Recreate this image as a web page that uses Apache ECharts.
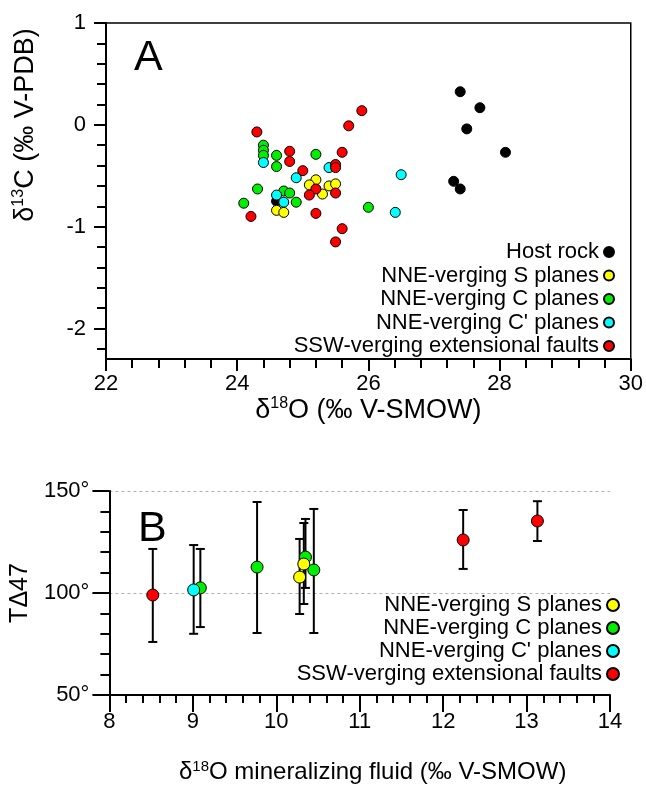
<!DOCTYPE html>
<html>
<head>
<meta charset="utf-8">
<script src="https://cdn.jsdelivr.net/npm/echarts@6/dist/echarts.min.js"></script>
<style>
  html, body { margin: 0; padding: 0; background: #fff; }
  #chart { width: 646px; height: 795px; }
</style>
</head>
<body>
<div id="chart"></div>
<script>
// ---- panel A: d18O vs d13C of calcite ----
const hostX = [24.6, 27.4, 27.7, 27.5, 28.09, 27.3, 27.4];
const hostY = [-0.75, 0.325, 0.168, -0.04, -0.27, -0.555, -0.63];

const cPlaneX = [24.4, 24.4, 24.4, 24.6, 24.6, 25.2, 24.31, 24.1, 24.71, 24.8, 24.9, 26.0];
const cPlaneY = [-0.2, -0.25, -0.3, -0.3, -0.41, -0.29, -0.63, -0.77, -0.65, -0.67, -0.76, -0.81];

const cPrimeX = [24.4, 25.4, 24.9, 26.5, 24.6, 24.71, 26.41];
const cPrimeY = [-0.37, -0.42, -0.52, -0.49, -0.69, -0.76, -0.86];

const sPlaneX = [25.2, 25.1, 25.4, 25.5, 25.3, 24.6, 24.71];
const sPlaneY = [-0.54, -0.59, -0.6, -0.58, -0.68, -0.84, -0.86];

const faultX = [25.9, 25.7, 24.3, 24.8, 25.6, 24.8, 25.0, 25.5, 25.5, 25.2, 25.1, 25.5, 24.21, 25.2, 25.6, 25.5];
const faultY = [0.139, -0.01, -0.07, -0.26, -0.27, -0.36, -0.45, -0.39, -0.42, -0.63, -0.69, -0.67, -0.9, -0.87, -1.02, -1.15];

// ---- panel B: fluid d18O vs clumped temperature ----
const fluidSX = [10.28, 10.33];
const fluidST = [107.8, 114.2];
const fluidSLow = [89.7, 94.6];
const fluidSHigh = [126.5, 134.3];

const fluidCX = [9.09, 9.77, 10.35, 10.45];
const fluidCT = [102.5, 112.7, 117.6, 111.3];
const fluidCLow = [83.3, 80.4, 102.5, 80.4];
const fluidCHigh = [121.6, 144.6, 136.3, 141.2];

const fluidCpX = [9.01];
const fluidCpT = [101.5];
const fluidCpLow = [80];
const fluidCpHigh = [123.5];

const fluidFX = [8.52, 12.24, 13.13];
const fluidFT = [99, 126, 135.3];
const fluidFLow = [76, 111.8, 125.5];
const fluidFHigh = [121.6, 140.7, 145];

const yMajorA = [-2, -1, 0, 1];
const yMinorA = [-2.2, -1.8, -1.6, -1.4, -1.2, -0.8, -0.6, -0.4, -0.2, 0.2, 0.4, 0.6, 0.8];

const NAMES = ["Host rock", "NNE-verging S planes", "NNE-verging C planes", "NNE-verging C' planes", "SSW-verging extensional faults"];
const COLORS = ["#000000", "#ffff00", "#00ee00", "#00ffff", "#ff0000"];

const FONT = "'Liberation Sans', Arial, sans-serif";

const zip = (xs, ys) => xs.map((x, i) => [x, ys[i]]);

const bars = [];
[[fluidFX, fluidFLow, fluidFHigh], [fluidCpX, fluidCpLow, fluidCpHigh],
 [fluidCX, fluidCLow, fluidCHigh], [fluidSX, fluidSLow, fluidSHigh]].forEach(([xs, lo, hi]) => {
  xs.forEach((x, i) => bars.push([x, lo[i], hi[i]]));
});

const chart = echarts.init(document.getElementById("chart"), null, { renderer: "canvas" });

const supA = { sup: { fontSize: 16, fontFamily: FONT, color: "#000", verticalAlign: "top", lineHeight: 29 } };
const supB = { sup: { fontSize: 15, fontFamily: FONT, color: "#000", verticalAlign: "top", lineHeight: 26 } };

const tickLabel = { color: "#000", fontSize: 22, fontFamily: FONT };
const axisLine = { show: true, onZero: false, lineStyle: { color: "#000", width: 2 } };

function scatter(name, data, color, xi, yi, size, z) {
  return {
    name,
    type: "scatter",
    xAxisIndex: xi,
    yAxisIndex: yi,
    data,
    symbolSize: size,
    z,
    itemStyle: { color, borderColor: "#000", borderWidth: 1, opacity: 1 },
    emphasis: { disabled: true },
  };
}

const option = {
  backgroundColor: "#fff",
  animation: false,
  textStyle: { fontFamily: FONT },
  grid: [
    { left: 106, top: 23, width: 526, height: 336, show: true, borderColor: "#000", borderWidth: 1.5, backgroundColor: "transparent" },
    { left: 107, top: 491, width: 503, height: 204 },
  ],
  legend: [
    {
      data: NAMES,
      orient: "vertical",
      right: 26,
      top: 236,
      align: "right",
      icon: "circle",
      itemWidth: 10,
      itemHeight: 10,
      itemGap: 1.5,
      selectedMode: false,
      textStyle: { fontSize: 22, lineHeight: 22, color: "#000", fontFamily: FONT },
    },
    {
      data: NAMES.slice(1),
      orient: "vertical",
      right: 21,
      top: 589,
      align: "right",
      icon: "circle",
      itemWidth: 12,
      itemHeight: 12,
      itemGap: 1,
      selectedMode: false,
      textStyle: { fontSize: 22, lineHeight: 22, color: "#000", fontFamily: FONT },
    },
  ],
  xAxis: [
    {
      gridIndex: 0,
      type: "value",
      min: 22,
      max: 30,
      interval: 2,
      axisLine,
      axisTick: { show: true, length: 12, lineStyle: { color: "#000", width: 2 } },
      minorTick: { show: true, splitNumber: 5, length: 9, lineStyle: { color: "#000", width: 2 } },
      splitLine: { show: false },
      axisLabel: { ...tickLabel, margin: 14 },
      name: "δ{sup|18}O (‰ V-SMOW)",
      nameLocation: "middle",
      nameGap: 35,
      nameTextStyle: { fontSize: 27, color: "#000", fontFamily: FONT, lineHeight: 29, rich: supA },
    },
    {
      gridIndex: 1,
      type: "value",
      min: 8,
      max: 14,
      interval: 1,
      axisLine,
      axisTick: { show: true, length: 17, lineStyle: { color: "#000", width: 2 } },
      minorTick: { show: true, splitNumber: 5, length: 8, lineStyle: { color: "#000", width: 2 } },
      splitLine: { show: false },
      axisLabel: { ...tickLabel, margin: 16 },
      name: "δ{sup|18}O mineralizing fluid (‰ V-SMOW)",
      nameLocation: "middle",
      nameGap: 64,
      nameTextStyle: { fontSize: 24, color: "#000", fontFamily: FONT, lineHeight: 26, rich: supB, padding: [0, 0, 0, 26] },
    },
  ],
  yAxis: [
    {
      gridIndex: 0,
      type: "value",
      min: -2.3,
      max: 1,
      axisLine,
      axisTick: { show: true, length: 12, customValues: yMajorA, lineStyle: { color: "#000", width: 2 } },
      splitLine: { show: false },
      axisLabel: { ...tickLabel, margin: 20, customValues: yMajorA },
      name: "δ{sup|13}C (‰ V-PDB)",
      nameLocation: "middle",
      nameRotate: 90,
      nameGap: 66,
      nameTextStyle: { fontSize: 27, color: "#000", fontFamily: FONT, lineHeight: 29, rich: supA, padding: [0, 0, 0, 132] },
    },
    {
      gridIndex: 0,
      type: "value",
      position: "left",
      offset: 0,
      min: -2.3,
      max: 1,
      axisLine: { show: false, onZero: false },
      axisTick: { show: true, length: 9, customValues: yMinorA, lineStyle: { color: "#000", width: 2 } },
      axisLabel: { show: false },
      splitLine: { show: false },
    },
    {
      gridIndex: 1,
      type: "value",
      min: 50,
      max: 150,
      interval: 50,
      axisLine,
      axisTick: { show: true, length: 17, lineStyle: { color: "#000", width: 2 } },
      minorTick: { show: true, splitNumber: 5, length: 9, lineStyle: { color: "#000", width: 2 } },
      splitLine: { show: true, lineStyle: { color: "#b0b0b0", width: 1, type: [3, 3] } },
      axisLabel: { ...tickLabel, margin: 20, formatter: "{value}°" },
      name: "TΔ47",
      nameLocation: "middle",
      nameRotate: 90,
      nameGap: 66,
      nameTextStyle: { fontSize: 25, color: "#000", fontFamily: FONT },
    },
  ],
  graphic: [
    { type: "text", left: 134, top: 37, style: { text: "A", fontSize: 43, fontFamily: FONT, fill: "#000" } },
    { type: "text", left: 138, top: 508, style: { text: "B", fontSize: 43, fontFamily: FONT, fill: "#000" } },
  ],
  series: [
    scatter(NAMES[0], zip(hostX, hostY), COLORS[0], 0, 0, 10, 2),
    scatter(NAMES[2], zip(cPlaneX, cPlaneY), COLORS[2], 0, 0, 10, 3),
    scatter(NAMES[3], zip(cPrimeX, cPrimeY), COLORS[3], 0, 0, 10, 4),
    scatter(NAMES[1], zip(sPlaneX, sPlaneY), COLORS[1], 0, 0, 10, 5),
    scatter(NAMES[4], zip(faultX, faultY), COLORS[4], 0, 0, 10, 6),
    {
      type: "custom",
      xAxisIndex: 1,
      yAxisIndex: 2,
      data: bars,
      encode: { x: 0, y: [1, 2] },
      z: 2,
      silent: true,
      renderItem(params, api) {
        const x = api.value(0);
        const lo = api.coord([x, api.value(1)]);
        const hi = api.coord([x, api.value(2)]);
        const cap = 4.5;
        const st = { stroke: "#000", lineWidth: 2 };
        return {
          type: "group",
          children: [
            { type: "line", shape: { x1: lo[0], y1: lo[1], x2: hi[0], y2: hi[1] }, style: st },
            { type: "line", shape: { x1: lo[0] - cap, y1: lo[1], x2: lo[0] + cap, y2: lo[1] }, style: st },
            { type: "line", shape: { x1: hi[0] - cap, y1: hi[1], x2: hi[0] + cap, y2: hi[1] }, style: st },
          ],
        };
      },
    },
    scatter(NAMES[2], zip(fluidCX, fluidCT), COLORS[2], 1, 2, 12, 3),
    scatter(NAMES[3], zip(fluidCpX, fluidCpT), COLORS[3], 1, 2, 12, 4),
    scatter(NAMES[1], zip(fluidSX, fluidST), COLORS[1], 1, 2, 12, 5),
    scatter(NAMES[4], zip(fluidFX, fluidFT), COLORS[4], 1, 2, 12, 6),
  ],
};

chart.setOption(option);
</script>
</body>
</html>
